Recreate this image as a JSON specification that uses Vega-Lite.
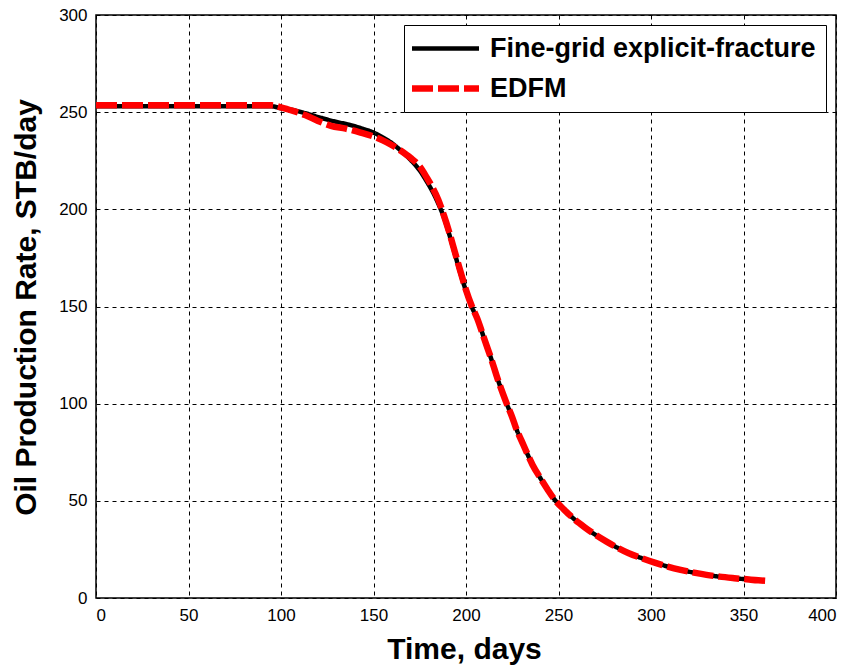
{
  "$schema": "https://vega.github.io/schema/vega-lite/v6.json",
  "autosize": {"type": "none"},
  "width": 740,
  "height": 583,
  "padding": {"left": 96, "top": 15, "right": 21, "bottom": 73},
  "background": "white",
  "config": {
    "view": {"stroke": "black", "strokeWidth": 1.5},
    "axis": {
      "domain": false,
      "ticks": false,
      "grid": true,
      "gridColor": "black",
      "gridDash": [4, 4],
      "gridWidth": 1,
      "gridOpacity": 1,
      "labelFont": "Liberation Sans",
      "labelFontSize": 17,
      "labelColor": "black",
      "titleFont": "Liberation Sans",
      "titleFontSize": 30,
      "titleFontWeight": "bold",
      "titleColor": "black"
    }
  },
  "data": {
    "values": [
      {"t": 0, "q": 253, "s": "Fine-grid explicit-fracture"},
      {"t": 20, "q": 253, "s": "Fine-grid explicit-fracture"},
      {"t": 50, "q": 253, "s": "Fine-grid explicit-fracture"},
      {"t": 80, "q": 253, "s": "Fine-grid explicit-fracture"},
      {"t": 95, "q": 253, "s": "Fine-grid explicit-fracture"},
      {"t": 100, "q": 252, "s": "Fine-grid explicit-fracture"},
      {"t": 107, "q": 251, "s": "Fine-grid explicit-fracture"},
      {"t": 113, "q": 249.5, "s": "Fine-grid explicit-fracture"},
      {"t": 122, "q": 247, "s": "Fine-grid explicit-fracture"},
      {"t": 130, "q": 245, "s": "Fine-grid explicit-fracture"},
      {"t": 137, "q": 243.5, "s": "Fine-grid explicit-fracture"},
      {"t": 144, "q": 241.5, "s": "Fine-grid explicit-fracture"},
      {"t": 150, "q": 239.5, "s": "Fine-grid explicit-fracture"},
      {"t": 155, "q": 237, "s": "Fine-grid explicit-fracture"},
      {"t": 160, "q": 234, "s": "Fine-grid explicit-fracture"},
      {"t": 165, "q": 230, "s": "Fine-grid explicit-fracture"},
      {"t": 170, "q": 225.5, "s": "Fine-grid explicit-fracture"},
      {"t": 175, "q": 220, "s": "Fine-grid explicit-fracture"},
      {"t": 179, "q": 214, "s": "Fine-grid explicit-fracture"},
      {"t": 182, "q": 209, "s": "Fine-grid explicit-fracture"},
      {"t": 185, "q": 203, "s": "Fine-grid explicit-fracture"},
      {"t": 188, "q": 196, "s": "Fine-grid explicit-fracture"},
      {"t": 191, "q": 187, "s": "Fine-grid explicit-fracture"},
      {"t": 194, "q": 177, "s": "Fine-grid explicit-fracture"},
      {"t": 197, "q": 167, "s": "Fine-grid explicit-fracture"},
      {"t": 200, "q": 158, "s": "Fine-grid explicit-fracture"},
      {"t": 203, "q": 150, "s": "Fine-grid explicit-fracture"},
      {"t": 206, "q": 144, "s": "Fine-grid explicit-fracture"},
      {"t": 210, "q": 133, "s": "Fine-grid explicit-fracture"},
      {"t": 214, "q": 122, "s": "Fine-grid explicit-fracture"},
      {"t": 217, "q": 113, "s": "Fine-grid explicit-fracture"},
      {"t": 220, "q": 105, "s": "Fine-grid explicit-fracture"},
      {"t": 222, "q": 100, "s": "Fine-grid explicit-fracture"},
      {"t": 225, "q": 93, "s": "Fine-grid explicit-fracture"},
      {"t": 227, "q": 87.5, "s": "Fine-grid explicit-fracture"},
      {"t": 230, "q": 81, "s": "Fine-grid explicit-fracture"},
      {"t": 233, "q": 74.5, "s": "Fine-grid explicit-fracture"},
      {"t": 236, "q": 68.5, "s": "Fine-grid explicit-fracture"},
      {"t": 240, "q": 62, "s": "Fine-grid explicit-fracture"},
      {"t": 244, "q": 56, "s": "Fine-grid explicit-fracture"},
      {"t": 248, "q": 50.5, "s": "Fine-grid explicit-fracture"},
      {"t": 253, "q": 45.5, "s": "Fine-grid explicit-fracture"},
      {"t": 258, "q": 41, "s": "Fine-grid explicit-fracture"},
      {"t": 264, "q": 36.5, "s": "Fine-grid explicit-fracture"},
      {"t": 270, "q": 32.5, "s": "Fine-grid explicit-fracture"},
      {"t": 276, "q": 29, "s": "Fine-grid explicit-fracture"},
      {"t": 282, "q": 25.8, "s": "Fine-grid explicit-fracture"},
      {"t": 288, "q": 23, "s": "Fine-grid explicit-fracture"},
      {"t": 295, "q": 20.5, "s": "Fine-grid explicit-fracture"},
      {"t": 302, "q": 18.2, "s": "Fine-grid explicit-fracture"},
      {"t": 309, "q": 16.2, "s": "Fine-grid explicit-fracture"},
      {"t": 316, "q": 14.5, "s": "Fine-grid explicit-fracture"},
      {"t": 324, "q": 12.9, "s": "Fine-grid explicit-fracture"},
      {"t": 330, "q": 11.9, "s": "Fine-grid explicit-fracture"},
      {"t": 337, "q": 11, "s": "Fine-grid explicit-fracture"},
      {"t": 345, "q": 10.2, "s": "Fine-grid explicit-fracture"},
      {"t": 353, "q": 9.5, "s": "Fine-grid explicit-fracture"},
      {"t": 0, "q": 253.5, "s": "EDFM"},
      {"t": 50, "q": 253.5, "s": "EDFM"},
      {"t": 95, "q": 253.5, "s": "EDFM"},
      {"t": 100, "q": 252.5, "s": "EDFM"},
      {"t": 107, "q": 250.5, "s": "EDFM"},
      {"t": 113, "q": 248.5, "s": "EDFM"},
      {"t": 120, "q": 245.5, "s": "EDFM"},
      {"t": 127, "q": 243, "s": "EDFM"},
      {"t": 135, "q": 241.5, "s": "EDFM"},
      {"t": 143, "q": 239.5, "s": "EDFM"},
      {"t": 150, "q": 237.5, "s": "EDFM"},
      {"t": 155, "q": 235.5, "s": "EDFM"},
      {"t": 160, "q": 233, "s": "EDFM"},
      {"t": 165, "q": 230, "s": "EDFM"},
      {"t": 170, "q": 226.5, "s": "EDFM"},
      {"t": 175, "q": 222, "s": "EDFM"},
      {"t": 179, "q": 216, "s": "EDFM"},
      {"t": 182, "q": 211, "s": "EDFM"},
      {"t": 185, "q": 205, "s": "EDFM"},
      {"t": 188, "q": 197, "s": "EDFM"},
      {"t": 191, "q": 188, "s": "EDFM"},
      {"t": 194, "q": 178, "s": "EDFM"},
      {"t": 197, "q": 168, "s": "EDFM"},
      {"t": 200, "q": 158.5, "s": "EDFM"},
      {"t": 203, "q": 150.5, "s": "EDFM"},
      {"t": 206, "q": 144, "s": "EDFM"},
      {"t": 210, "q": 133, "s": "EDFM"},
      {"t": 214, "q": 122, "s": "EDFM"},
      {"t": 217, "q": 113, "s": "EDFM"},
      {"t": 220, "q": 105, "s": "EDFM"},
      {"t": 222, "q": 100, "s": "EDFM"},
      {"t": 225, "q": 93, "s": "EDFM"},
      {"t": 227, "q": 87.5, "s": "EDFM"},
      {"t": 230, "q": 81, "s": "EDFM"},
      {"t": 233, "q": 74.5, "s": "EDFM"},
      {"t": 236, "q": 68.5, "s": "EDFM"},
      {"t": 240, "q": 62, "s": "EDFM"},
      {"t": 244, "q": 56, "s": "EDFM"},
      {"t": 248, "q": 50.5, "s": "EDFM"},
      {"t": 253, "q": 45.5, "s": "EDFM"},
      {"t": 258, "q": 41, "s": "EDFM"},
      {"t": 264, "q": 36.5, "s": "EDFM"},
      {"t": 270, "q": 32.5, "s": "EDFM"},
      {"t": 276, "q": 29, "s": "EDFM"},
      {"t": 282, "q": 25.8, "s": "EDFM"},
      {"t": 288, "q": 23, "s": "EDFM"},
      {"t": 295, "q": 20.5, "s": "EDFM"},
      {"t": 302, "q": 18.2, "s": "EDFM"},
      {"t": 309, "q": 16.2, "s": "EDFM"},
      {"t": 316, "q": 14.5, "s": "EDFM"},
      {"t": 324, "q": 12.9, "s": "EDFM"},
      {"t": 330, "q": 11.9, "s": "EDFM"},
      {"t": 337, "q": 11, "s": "EDFM"},
      {"t": 345, "q": 10.2, "s": "EDFM"},
      {"t": 353, "q": 9.5, "s": "EDFM"},
      {"t": 358, "q": 9.1, "s": "EDFM"},
      {"t": 363, "q": 8.8, "s": "EDFM"}
    ]
  },
  "encoding": {
    "x": {
      "field": "t", "type": "quantitative",
      "scale": {"domain": [0, 400], "nice": false},
      "axis": {"values": [0, 50, 100, 150, 200, 250, 300, 350, 400], "title": "Time, days", "labelPadding": 9, "titleBaseline": "alphabetic", "titleY": 60, "titleX": 368}
    },
    "y": {
      "field": "q", "type": "quantitative",
      "scale": {"domain": [0, 300], "nice": false},
      "axis": {"values": [0, 50, 100, 150, 200, 250, 300], "title": "Oil Production Rate, STB/day", "labelPadding": 9, "titleBaseline": "alphabetic", "titleAngle": -90, "titleX": -61, "titleY": 292, "titleAlign": "center"}
    },
    "color": {
      "field": "s", "type": "nominal",
      "scale": {"domain": ["Fine-grid explicit-fracture", "EDFM"], "range": ["black", "red"]},
      "legend": {
        "title": null,
        "orient": "top-right",
        "offset": 10,
        "padding": 10,
        "fillColor": "white",
        "strokeColor": "black",
        "symbolType": "M-3.35,0H3.35",
        "symbolSize": 400,
        "symbolOffset": 18,
        "symbolFillColor": "transparent",
        "labelFont": "Liberation Sans",
        "labelFontSize": 27,
        "labelFontWeight": "bold",
        "labelColor": "black",
        "labelOffset": 31,
        "labelLimit": 500,
        "rowPadding": 12
      }
    },
    "strokeDash": {
      "field": "s", "type": "nominal",
      "scale": {"domain": ["Fine-grid explicit-fracture", "EDFM"], "range": [[1, 0], [21, 5]]}
    },
    "strokeWidth": {
      "field": "s", "type": "nominal",
      "scale": {"domain": ["Fine-grid explicit-fracture", "EDFM"], "range": [4.5, 6.5]}
    }
  },
  "layer": [
    {
      "transform": [{"filter": "datum.s === 'Fine-grid explicit-fracture'"}],
      "mark": {"type": "line", "interpolate": "monotone"}
    },
    {
      "transform": [{"filter": "datum.s === 'EDFM'"}],
      "mark": {"type": "line", "interpolate": "monotone"}
    }
  ]
}
